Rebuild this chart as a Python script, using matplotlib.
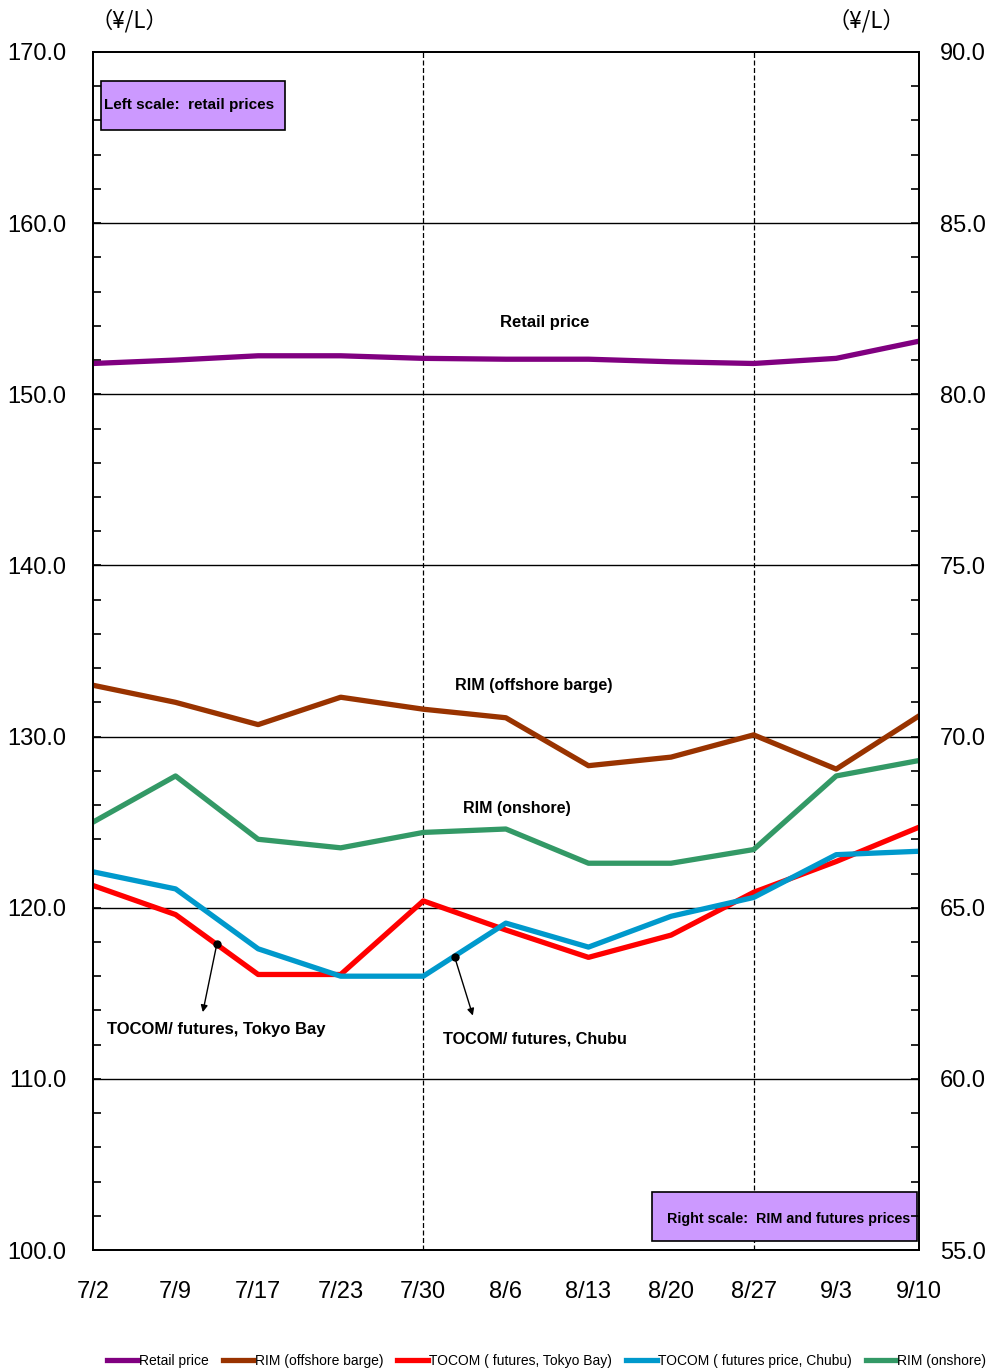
import numpy as np
import matplotlib
matplotlib.use("Agg")
import matplotlib.pyplot as plt
from matplotlib.patches import Rectangle

plt.rcParams['font.family'] = ['Liberation Sans', 'DejaVu Sans']

dates = ['7/2', '7/9', '7/17', '7/23', '7/30', '8/6', '8/13', '8/20', '8/27', '9/3', '9/10']

# left scale
retail = [151.8, 152.0, 152.25, 152.25, 152.1, 152.05, 152.05, 151.9, 151.8, 152.1, 153.1]
# right scale
rim_offshore = [71.5, 71.0, 70.35, 71.15, 70.8, 70.55, 69.15, 69.4, 70.05, 69.05, 70.6]
rim_onshore = [67.5, 68.85, 67.0, 66.75, 67.2, 67.3, 66.3, 66.3, 66.7, 68.85, 69.3]
tocom_tokyo = [65.65, 64.8, 63.05, 63.05, 65.2, 64.35, 63.55, 64.2, 65.45, 66.35, 67.35]
tocom_chubu = [66.05, 65.55, 63.8, 63.0, 63.0, 64.55, 63.85, 64.75, 65.3, 66.55, 66.65]

x = np.arange(len(dates))

fig = plt.figure(figsize=(9.89, 13.72), dpi=100)
ax = fig.add_axes([0.094, 0.0889, 0.835, 0.8732])
ax2 = ax.twinx()

lw = 3.8
l1, = ax.plot(x, retail, color='#800080', lw=lw, label='Retail price', zorder=5)
l2, = ax2.plot(x, rim_offshore, color='#993300', lw=lw, label='RIM (offshore barge)')
l3, = ax2.plot(x, tocom_tokyo, color='#FF0000', lw=lw, label='TOCOM ( futures, Tokyo Bay)')
l4, = ax2.plot(x, tocom_chubu, color='#0099CC', lw=lw, label='TOCOM ( futures price, Chubu)')
l5, = ax2.plot(x, rim_onshore, color='#339966', lw=lw, label='RIM (onshore)')

ax.set_xlim(0, 10)
ax.set_ylim(100, 170)
ax2.set_ylim(55, 90)

ax.set_yticks(np.arange(100, 171, 10))
ax.set_yticks(np.arange(100, 171, 2), minor=True)
ax.set_yticklabels([f'{v:.1f}' for v in np.arange(100, 171, 10)])
ax2.set_yticks(np.arange(55, 91, 5))
ax2.set_yticks(np.arange(55, 91, 1), minor=True)
ax2.set_yticklabels([f'{v:.1f}' for v in np.arange(55, 91, 5)])
ax.set_xticks(x)
ax.set_xticklabels(dates)

ax.tick_params(axis='y', which='both', direction='in', length=6, width=1.2, labelsize=17, pad=19)
ax2.tick_params(axis='y', which='both', direction='in', length=6, width=1.2, labelsize=17, pad=15)
ax.tick_params(axis='x', length=0, labelsize=17, pad=22)

for a in (ax, ax2):
    for s in a.spines.values():
        s.set_linewidth(1.3)

for v in range(110, 170, 10):
    ax.axhline(v, color='black', lw=1.0, zorder=1)
for i in (4, 8):
    ax.axvline(i, color='black', lw=0.9, ls=(0, (4, 2)), zorder=1)

# unit labels
fig.text(0.131, 0.985, '（¥/L）', fontsize=16, ha='center', va='center',
         family=['Noto Sans CJK JP', 'DejaVu Sans'])
fig.text(0.876, 0.985, '（¥/L）', fontsize=16, ha='center', va='center',
         family=['Noto Sans CJK JP', 'DejaVu Sans'])

# scale boxes
ax.add_patch(Rectangle((0.0097, 0.9349), 0.2227, 0.0409, transform=ax.transAxes,
                       facecolor='#CC99FF', edgecolor='black', lw=1.2, zorder=6))
ax.text(0.0133, 0.9558, 'Left scale:  retail prices', transform=ax.transAxes,
        fontsize=11, fontweight='bold', ha='left', va='center', zorder=7)
ax.add_patch(Rectangle((0.6768, 0.0075), 0.3208, 0.0409, transform=ax.transAxes,
                       facecolor='#CC99FF', edgecolor='black', lw=1.2, zorder=6))
ax.text(0.6949, 0.0259, 'Right scale:  RIM and futures prices', transform=ax.transAxes,
        fontsize=10.3, fontweight='bold', ha='left', va='center', zorder=7)

# series labels
ax.text(5.47, 154.2, 'Retail price', fontsize=12, fontweight='bold', ha='center', va='center')
ax2.text(5.34, 71.48, 'RIM (offshore barge)', fontsize=11.6, fontweight='bold', ha='center', va='center')
ax2.text(5.13, 67.9, 'RIM (onshore)', fontsize=11.5, fontweight='bold', ha='center', va='center')
ax2.text(0.17, 61.43, 'TOCOM/ futures, Tokyo Bay', fontsize=12, fontweight='bold', ha='left', va='center')
ax2.text(4.24, 61.17, 'TOCOM/ futures, Chubu', fontsize=11.7, fontweight='bold', ha='left', va='center')

arrow = dict(arrowstyle='-|>', color='black', lw=1.0, mutation_scale=10, shrinkA=0, shrinkB=0)
ax2.annotate('', xy=(1.33, 61.95), xytext=(1.50, 63.94), arrowprops=arrow)
ax2.plot([1.50], [63.94], 'o', color='black', ms=5)
ax2.annotate('', xy=(4.60, 61.85), xytext=(4.38, 63.56), arrowprops=arrow)
ax2.plot([4.38], [63.56], 'o', color='black', ms=5)

fig.legend(handles=[l1, l2, l3, l4, l5], loc='center', bbox_to_anchor=(0.553, 0.008),
           ncol=5, frameon=False, fontsize=10, handlelength=2.2, handletextpad=0.1,
           columnspacing=1.0, borderaxespad=0)

fig.savefig('out.png', dpi=100)
